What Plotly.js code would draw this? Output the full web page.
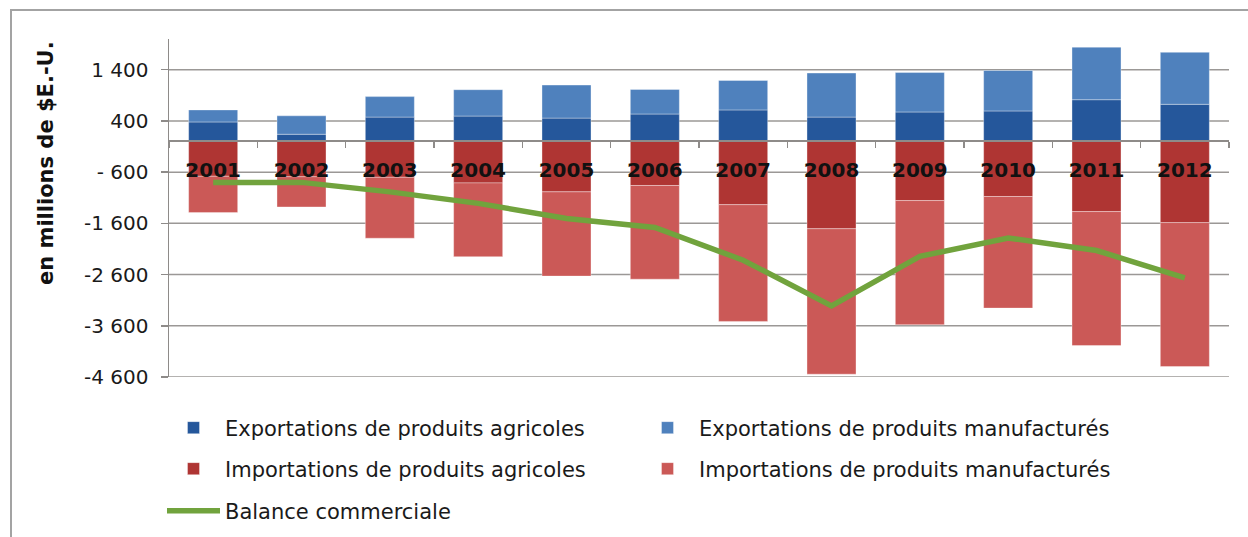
<!DOCTYPE html>
<html>
<head>
<meta charset="utf-8">
<script src="https://cdn.plot.ly/plotly-3.0.1.min.js"></script>
<style>
  html, body { margin: 0; padding: 0; background: #fff; }
  #wrap { position: relative; width: 1248px; height: 537px; overflow: hidden; }
  #chart { position: absolute; left: 0; top: 0; width: 1248px; height: 537px; }
  #frame { position: absolute; left: 10px; top: 9px; width: 1400px; height: 700px;
           border-left: 2px solid #a3a3a3; border-top: 2px solid #a3a3a3; pointer-events: none; }
</style>
</head>
<body>
<div id="wrap">
  <div id="chart"></div>
  <div id="frame"></div>
</div>
<script>
const years = ['2001','2002','2003','2004','2005','2006','2007','2008','2009','2010','2011','2012'];
const exportsAgri = [380, 140, 475, 495, 455, 535, 615, 475, 575, 595, 815, 725];
const exportsManu = [235, 360, 400, 515, 645, 480, 575, 860, 770, 790, 1025, 1015];
const importsAgri = [-680, -690, -700, -810, -985, -860, -1235, -1705, -1155, -1075, -1370, -1585];
const importsManu = [-710, -590, -1190, -1440, -1645, -1830, -2280, -2840, -2425, -2180, -2615, -2810];
const balance = [-800, -800, -985, -1210, -1505, -1680, -2320, -3210, -2245, -1885, -2130, -2665];
const yTickVals = [1400, 400, -600, -1600, -2600, -3600, -4600];
const yTickText = ['1 400', '400', '- 600', '-1 600', '-2 600', '-3 600', '-4 600'];
const names = ['Exportations de produits agricoles', 'Exportations de produits manufacturés',
               'Importations de produits agricoles', 'Importations de produits manufacturés',
               'Balance commerciale'];

const C = { expA: '#25579B', expM: '#4F81BD', impA: '#AF3533', impM: '#CB5957', bal: '#71A33D' };
const edge = { color: 'rgba(255,255,255,0.35)', width: 1 };
const GRID = '#9b9896';

const traces = [
  { type: 'bar', x: years, y: exportsAgri, name: names[0], marker: { color: C.expA, line: edge }, legend: 'legend' },
  { type: 'bar', x: years, y: exportsManu, name: names[1], marker: { color: C.expM, line: edge }, legend: 'legend2' },
  { type: 'bar', x: years, y: importsAgri, name: names[2], marker: { color: C.impA, line: edge }, legend: 'legend3' },
  { type: 'bar', x: years, y: importsManu, name: names[3], marker: { color: C.impM, line: edge }, legend: 'legend4' },
  { type: 'scatter', mode: 'lines', x: years, y: balance, name: names[4], xaxis: 'x2',
    line: { color: C.bal, width: 5.5 }, legend: 'legend5' }
];

const W = 1248, H = 537;
const legFont = { family: 'DejaVu Sans', size: 21, color: '#1a1a1a' };
function leg(px, py) {
  return { xref: 'container', yref: 'container', x: px / W, y: 1 - py / H,
           xanchor: 'left', yanchor: 'middle', orientation: 'h',
           font: legFont, bgcolor: 'rgba(0,0,0,0)', itemwidth: 53, borderwidth: 0 };
}
const col1 = 162, col2 = 636;
const row1 = 428, row2 = 469, row3 = 511;

// horizontal gridlines at the y tick values (drawn through the y scale)
const gridShapes = yTickVals.map(function (v) {
  return { type: 'line', layer: 'below', xref: 'paper', x0: 0, x1: 1, yref: 'y', y0: v, y1: v,
           line: { color: GRID, width: 1.5 } };
});

const layout = {
  width: W, height: H,
  margin: { l: 169, r: 19, t: 39, b: 160 },
  paper_bgcolor: '#fff', plot_bgcolor: '#fff',
  barmode: 'relative', bargap: 0.445,
  font: { family: 'DejaVu Sans', color: '#1a1a1a' },
  showlegend: true,
  legend: leg(col1, row1),
  legend2: leg(col2, row1),
  legend3: leg(col1, row2),
  legend4: leg(col2, row2),
  legend5: leg(col1, row3),
  xaxis: {
    type: 'category', range: [-0.5, 11.5],
    showline: false, showticklabels: false, ticks: '',
    showgrid: false, zeroline: false, fixedrange: true
  },
  xaxis2: {
    type: 'category', range: [-0.5, 11.5], overlaying: 'x',
    anchor: 'free', position: 4600 / 6600,
    showline: true, linecolor: '#8e8b89', linewidth: 2,
    ticks: 'outside', tickson: 'boundaries', ticklen: 6, tickcolor: '#8e8b89', tickwidth: 1.5,
    ticklabelstandoff: 11,
    tickfont: { family: 'DejaVu Sans', size: 20, color: '#111', weight: 'bold' },
    showgrid: false, zeroline: false, fixedrange: true
  },
  yaxis: {
    range: [-4600, 2000],
    tickmode: 'array', tickvals: yTickVals, ticktext: yTickText,
    showline: true, linecolor: '#8e8b89', linewidth: 1.5,
    ticks: 'outside', ticklen: 7, tickcolor: '#8e8b89', tickwidth: 1.5,
    ticklabelstandoff: 8,
    tickfont: { family: 'DejaVu Sans', size: 20, color: '#1a1a1a' },
    showgrid: false, zeroline: false, fixedrange: true
  },
  shapes: gridShapes,
  annotations: [{
    text: '<b>en millions de $E.-U.</b>', xref: 'paper', yref: 'paper',
    x: (46 - 169) / 1060, y: (377 - 163) / 338, xanchor: 'center', yanchor: 'middle',
    textangle: -90, showarrow: false,
    font: { family: 'DejaVu Sans', size: 21, color: '#111' }
  }]
};

Plotly.newPlot('chart', traces, layout, { displayModeBar: false, staticPlot: true });
</script>
</body>
</html>
